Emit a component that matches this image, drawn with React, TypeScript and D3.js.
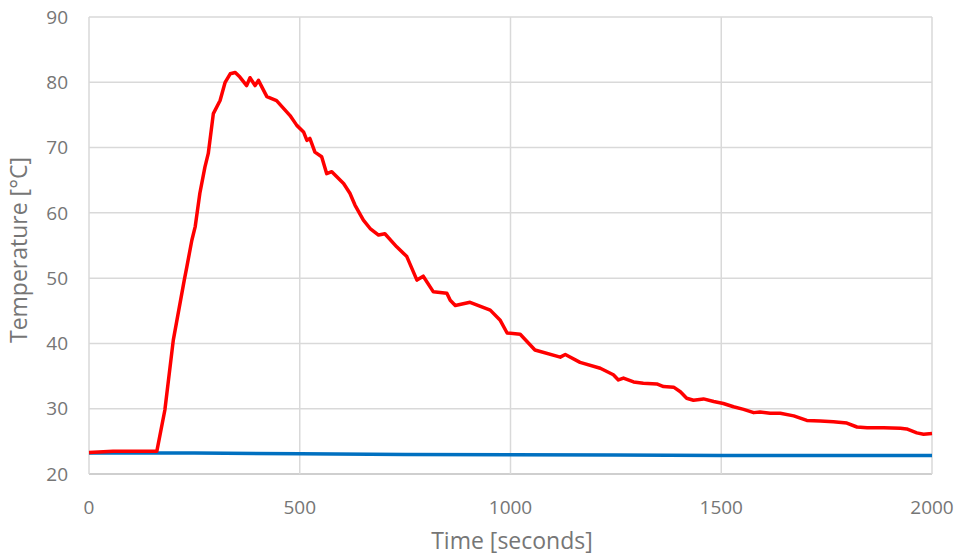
import React from "react";
import * as d3 from "d3";

const redTime = [0, 57, 161, 180, 200, 226, 232, 244, 252, 263, 275, 283, 295, 311, 323, 335, 347, 358, 374, 382, 394, 402, 422, 445, 477, 493, 509, 517, 524, 536, 552, 564, 576, 604, 619, 631, 651, 667, 687, 702, 730, 754, 778, 793, 817, 849, 857, 869, 904, 952, 975, 992, 1023, 1058, 1118, 1130, 1165, 1213, 1244, 1256, 1268, 1292, 1315, 1347, 1363, 1387, 1403, 1418, 1434, 1458, 1482, 1505, 1529, 1553, 1577, 1592, 1616, 1640, 1672, 1703, 1735, 1766, 1798, 1822, 1846, 1885, 1925, 1940, 1964, 1980, 2000];
const redTemp = [23.3, 23.5, 23.5, 29.8, 40.5, 49.7, 51.7, 55.8, 57.9, 63.0, 67.0, 69.1, 75.2, 77.2, 80.0, 81.3, 81.5, 80.8, 79.5, 80.7, 79.5, 80.3, 77.8, 77.2, 74.9, 73.4, 72.4, 71.1, 71.4, 69.3, 68.6, 66.0, 66.3, 64.5, 63.0, 61.2, 58.9, 57.6, 56.6, 56.8, 54.8, 53.3, 49.7, 50.3, 47.9, 47.7, 46.6, 45.8, 46.3, 45.1, 43.6, 41.6, 41.4, 39.0, 37.9, 38.3, 37.1, 36.2, 35.2, 34.4, 34.7, 34.1, 33.9, 33.8, 33.4, 33.3, 32.6, 31.6, 31.3, 31.5, 31.1, 30.8, 30.3, 29.9, 29.4, 29.5, 29.3, 29.3, 28.9, 28.2, 28.1, 28.0, 27.8, 27.2, 27.1, 27.1, 27.0, 26.9, 26.3, 26.1, 26.2];

const blueTime = [0, 250, 500, 750, 1000, 1250, 1500, 1750, 2000];
const blueTemp = [23.2, 23.2, 23.1, 23.0, 22.95, 22.9, 22.85, 22.85, 22.85];

const xTicks = [0, 500, 1000, 1500, 2000];
const yTicks = [20, 30, 40, 50, 60, 70, 80, 90];

const W = 958;
const H = 556;
const M = { left: 89, right: 26, top: 17, bottom: 82 };

export default function App() {
  const x = d3.scaleLinear().domain([0, 2000]).range([M.left, W - M.right]);
  const y = d3.scaleLinear().domain([20, 90]).range([H - M.bottom, M.top]);
  const line = d3
    .line<[number, number]>()
    .x((d) => x(d[0]))
    .y((d) => y(d[1]));
  const red: [number, number][] = redTime.map((t, i) => [t, redTemp[i]]);
  const blue: [number, number][] = blueTime.map((t, i) => [t, blueTemp[i]]);
  const font = "'Open Sans', sans-serif";
  return (
    <svg
      width={W}
      height={H}
      style={{ position: "absolute", left: 0, top: 0, background: "#fff" }}
    >
      {yTicks.map((v) => (
        <line
          key={"gy" + v}
          x1={x(0)}
          x2={x(2000)}
          y1={y(v)}
          y2={y(v)}
          stroke={v === 20 ? "#bfbfbf" : "#d9d9d9"}
          strokeWidth={1.5}
        />
      ))}
      {xTicks.map((v) => (
        <line
          key={"gx" + v}
          x1={x(v)}
          x2={x(v)}
          y1={y(20)}
          y2={y(90)}
          stroke="#d9d9d9"
          strokeWidth={1.5}
        />
      ))}
      {yTicks.map((v) => (
        <text
          key={"ty" + v}
          x={x(0) - 21}
          y={y(v)}
          dy="0.35em"
          textAnchor="end"
          fontFamily={font}
          fontSize={19}
          fill="#767676"
        >
          {v}
        </text>
      ))}
      {xTicks.map((v) => (
        <text
          key={"tx" + v}
          x={x(v)}
          y={y(20) + 40}
          textAnchor="middle"
          fontFamily={font}
          fontSize={19}
          fill="#767676"
        >
          {v}
        </text>
      ))}
      <path d={line(blue) || ""} fill="none" stroke="#0070C0" strokeWidth={3.5} />
      <path
        d={line(red) || ""}
        fill="none"
        stroke="#FF0000"
        strokeWidth={3.5}
        strokeLinejoin="round"
      />
      <text
        x={512}
        y={549}
        textAnchor="middle"
        fontFamily={font}
        fontSize={23}
        fill="#767676"
      >
        Time [seconds]
      </text>
      <text
        transform={`translate(27, 250) rotate(-90)`}
        textAnchor="middle"
        fontFamily={font}
        fontSize={23}
        fill="#767676"
      >
        Temperature [°C]
      </text>
    </svg>
  );
}
